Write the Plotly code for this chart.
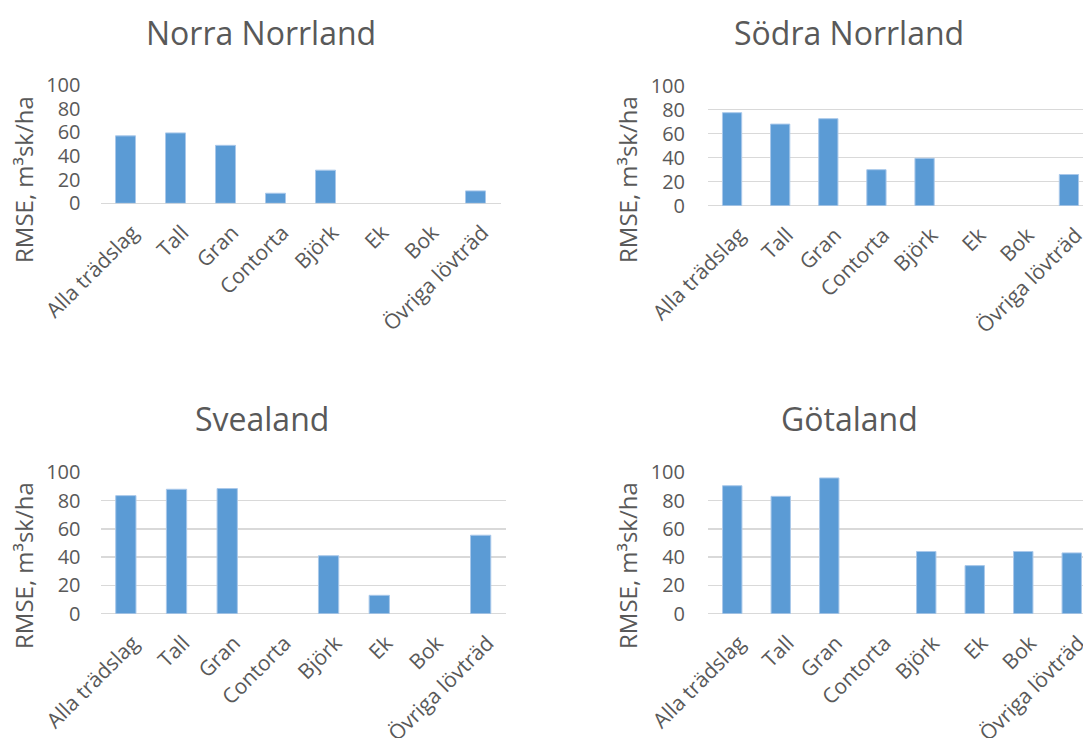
import plotly.graph_objects as go

categories = ["Alla trädslag", "Tall", "Gran", "Contorta", "Björk", "Ek", "Bok", "Övriga lövträd"]
norra_norrland = [57, 59.5, 49, 8.5, 28, None, None, 10.5]
sodra_norrland = [77.5, 68, 72.5, 30, 39.5, None, None, 26]
svealand = [83.5, 88, 88.5, None, 41, 13, None, 55.5]
gotaland = [90.5, 83, 96, None, 44, 34, 44, 43]
titles = ["Norra Norrland", "Södra Norrland", "Svealand", "Götaland"]
y_ticks = [0, 20, 40, 60, 80, 100]

W, H = 1083, 738
OFF = 0  # body margin removed via post_script
FONT = "Open Sans"
GRAY = "#595959"
GRID = "#d9d9d9"
BAR = "#5b9bd5"


def px(x):
    return (x - OFF) / W


def py(y):
    return 1 - (y - OFF) / H


# panel plot areas in screen pixels: (x0, x1, ytop, ybottom, grid, label standoff)
panels = [
    (100.5, 500.5, 85, 203.3, False, 19),
    (708, 1093, 85.7, 205.7, True, 22),
    (100.5, 506, 472.3, 613.7, True, 19),
    (708, 1096, 472.3, 613.7, True, 22),
]
title_pos = [(261, 32), (849, 32), (262, 418), (850, 418)]
ytitle_pos = [(23, 180), (627, 180), (23, 566), (627, 566)]
series = [norra_norrland, sodra_norrland, svealand, gotaland]

fig = go.Figure()
layout = dict(
    width=W, height=H, margin=dict(l=0, r=0, t=0, b=0, autoexpand=False),
    paper_bgcolor="white", plot_bgcolor="white", showlegend=False,
    font=dict(family=FONT, color=GRAY), bargap=0.6, hovermode=False,
)
annotations = []
for i, ((x0, x1, yt, yb, grid, sto), vals) in enumerate(zip(panels, series)):
    n = "" if i == 0 else str(i + 1)
    fig.add_trace(go.Bar(
        x=categories, y=vals, marker=dict(color=BAR, line=dict(color="#a9c8ea", width=1)),
        xaxis="x" + n, yaxis="y" + n,
    ))
    layout["xaxis" + n] = dict(
        domain=[px(x0), min(px(x1), 1.0)], anchor="y" + n, tickangle=-45, automargin=False,
        tickfont=dict(size=21, color=GRAY, family=FONT), showgrid=False,
        showline=False, ticks="", fixedrange=True,
        ticklabelstandoff=12, ticklabelshift=7,
    )
    if px(x1) > 1.0:
        # plot area extends past the page edge: keep category spacing by trimming the range
        frac = (1.0 - px(x0)) / (px(x1) - px(x0))
        layout["xaxis" + n]["range"] = [-0.5, -0.5 + 8 * frac]
    layout["yaxis" + n] = dict(
        domain=[py(yb), py(yt)], anchor="x" + n, range=[0, 100], automargin=False,
        tickvals=y_ticks, tickfont=dict(size=20, color=GRAY, family=FONT),
        showgrid=grid, gridcolor=GRID, gridwidth=1.5,
        zeroline=True, zerolinecolor=GRID, zerolinewidth=1.5,
        showline=False, ticks="", ticklabelstandoff=sto, fixedrange=True,
    )
    tx, ty = title_pos[i]
    annotations.append(dict(
        text=titles[i], x=px(tx), y=py(ty), xref="paper", yref="paper",
        showarrow=False, xanchor="center", yanchor="middle",
        font=dict(size=32, color=GRAY, family=FONT),
    ))
    ax, ay = ytitle_pos[i]
    annotations.append(dict(
        text="RMSE, m³sk/ha", x=px(ax), y=py(ay), xref="paper", yref="paper",
        showarrow=False, xanchor="center", yanchor="middle", textangle=-90,
        font=dict(size=24, color=GRAY, family=FONT),
    ))
layout["annotations"] = annotations
fig.update_layout(**layout)
fig.write_html(
    "out.html",
    config={"displayModeBar": False, "staticPlot": True},
    post_script="document.body.style.margin='0';document.body.style.overflow='hidden';",
)
